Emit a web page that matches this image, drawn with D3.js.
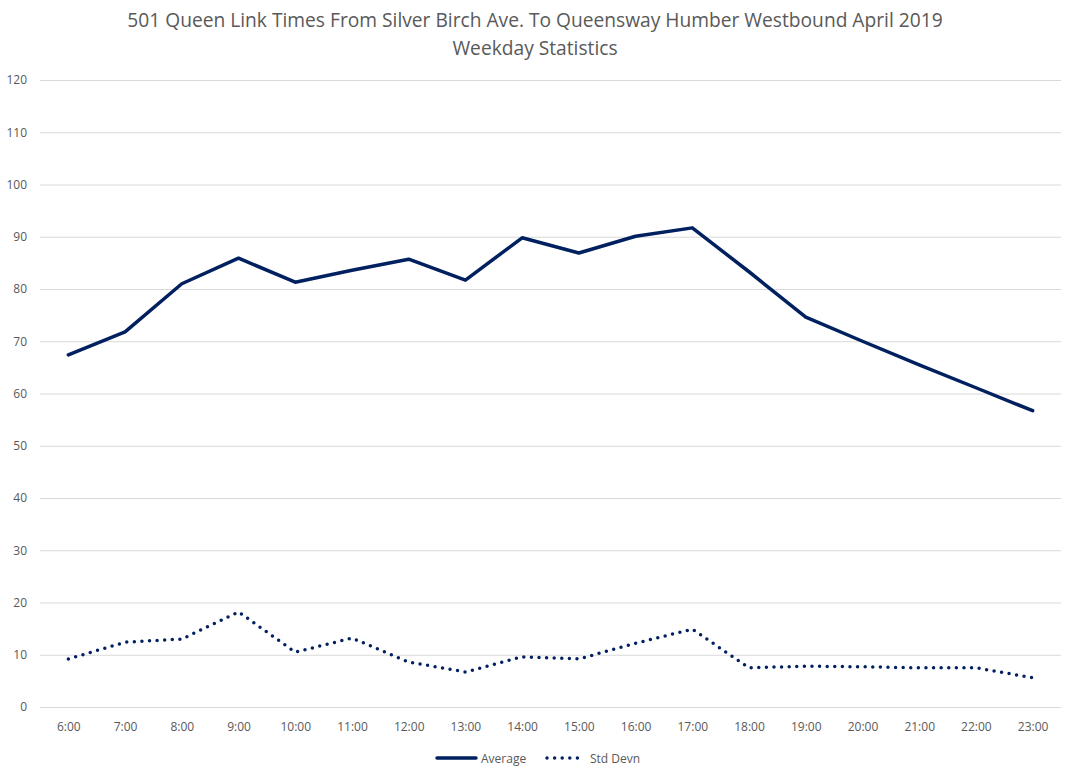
<!DOCTYPE html>
<html>
<head>
<meta charset="utf-8">
<script src="https://cdn.jsdelivr.net/npm/d3@7"></script>
<style>
  body { margin: 0; background: #fff; }
  text { font-family: "Open Sans", "Noto Sans", sans-serif; fill: #595959; }
</style>
</head>
<body>
<script>
var hours = ['6:00', '7:00', '8:00', '9:00', '10:00', '11:00', '12:00', '13:00', '14:00',
             '15:00', '16:00', '17:00', '18:00', '19:00', '20:00', '21:00', '22:00', '23:00'];
var average = [67.4, 71.8, 81.0, 85.9, 81.3, 83.6, 85.7, 81.7, 89.8,
               86.9, 90.1, 91.7, 83.3, 74.6, 70.0, 65.5, 61.1, 56.7];
var stdDevn = [9.2, 12.4, 13.0, 18.2, 10.5, 13.2, 8.6, 6.7, 9.6,
               9.2, 12.2, 14.9, 7.5, 7.8, 7.7, 7.5, 7.5, 5.6];
var yTicks = [0, 10, 20, 30, 40, 50, 60, 70, 80, 90, 100, 110, 120];

var w = 1066, h = 769,
  plotLeft = 40, plotRight = 1061, plotTop = 80, plotBottom = 707,
  navy = '#002060';

var svg = d3.select('body')
  .append('svg')
  .attr('width', w)
  .attr('height', h);

var x = d3.scalePoint().domain(hours).range([plotLeft, plotRight]).padding(0.5);
var y = d3.scaleLinear().domain([0, 120]).range([plotBottom, plotTop]);

// title
svg.append('text')
  .attr('x', 535).attr('y', 27)
  .attr('text-anchor', 'middle')
  .attr('font-size', '19.2px')
  .text('501 Queen Link Times From Silver Birch Ave. To Queensway Humber Westbound April 2019');
svg.append('text')
  .attr('x', 535).attr('y', 55)
  .attr('text-anchor', 'middle')
  .attr('font-size', '19.2px')
  .text('Weekday Statistics');

// gridlines + y labels
var yAxis = svg.append('g')
  .attr('transform', 'translate(' + plotLeft + ',0)')
  .call(d3.axisLeft(y).tickValues(yTicks).tickSize(-(plotRight - plotLeft)).tickPadding(13));
yAxis.select('.domain').remove();
yAxis.selectAll('line').attr('stroke', '#d9d9d9').attr('stroke-width', 1);
yAxis.selectAll('text').attr('font-size', '12px').attr('fill', '#595959')
  .style('font-family', '"Open Sans", sans-serif');

// x labels
var xAxis = svg.append('g')
  .attr('transform', 'translate(0,' + plotBottom + ')')
  .call(d3.axisBottom(x).tickSize(0).tickPadding(15));
xAxis.select('.domain').remove();
xAxis.selectAll('text').attr('font-size', '12px').attr('fill', '#595959')
  .style('font-family', '"Open Sans", sans-serif');

var line = d3.line()
  .x(function (d, i) { return x(hours[i]); })
  .y(function (d) { return y(d); });

svg.append('path')
  .datum(average)
  .attr('d', line)
  .attr('fill', 'none')
  .attr('stroke', navy)
  .attr('stroke-width', 3.5)
  .attr('stroke-linejoin', 'round')
  .attr('stroke-linecap', 'round');

svg.append('path')
  .datum(stdDevn)
  .attr('d', line)
  .attr('fill', 'none')
  .attr('stroke', navy)
  .attr('stroke-width', 3.5)
  .attr('stroke-dasharray', '0,7.6')
  .attr('stroke-linecap', 'round');

// legend
var legend = svg.append('g').attr('transform', 'translate(0,758)');
legend.append('line')
  .attr('x1', 437).attr('x2', 476).attr('y1', 0).attr('y2', 0)
  .attr('stroke', navy).attr('stroke-width', 3.5).attr('stroke-linecap', 'round');
legend.append('text')
  .attr('x', 481).attr('y', 4.5).attr('font-size', '12px').text('Average');
legend.append('line')
  .attr('x1', 547).attr('x2', 580).attr('y1', 0).attr('y2', 0)
  .attr('stroke', navy).attr('stroke-width', 3.5)
  .attr('stroke-dasharray', '0,7.6').attr('stroke-linecap', 'round');
legend.append('text')
  .attr('x', 590).attr('y', 4.5).attr('font-size', '12px').text('Std Devn');
</script>
</body>
</html>
